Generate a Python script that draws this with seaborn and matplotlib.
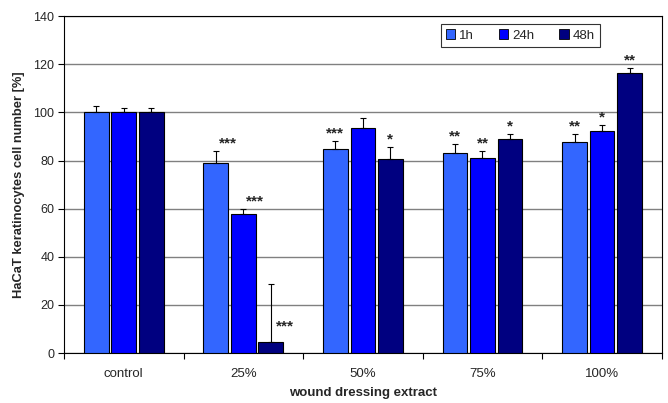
import numpy as np
import pandas as pd
import seaborn as sns
import matplotlib.pyplot as plt

# Cell viability data (% of control)
categories = ["control", "25%", "50%", "75%", "100%"]
times = ["1h", "24h", "48h"]
values_1h = [100.0, 79.0, 84.6, 83.0, 87.5]
values_24h = [100.0, 57.8, 93.7, 81.2, 92.2]
values_48h = [100.0, 4.5, 80.6, 88.8, 116.2]
err_1h = [2.5, 5.0, 3.5, 3.9, 3.5]
err_24h = [2.0, 2.2, 3.8, 2.7, 2.5]
err_48h = [1.7, 24.0, 5.1, 2.3, 2.3]
stars_1h = ["", "***", "***", "**", "**"]
stars_24h = ["", "***", "", "**", "*"]
stars_48h = ["", "***", "*", "*", "**"]
colors = ["#3366FF", "#0000FF", "#000080"]

rows = []
for t, vals, errs, st in zip(times,
                             [values_1h, values_24h, values_48h],
                             [err_1h, err_24h, err_48h],
                             [stars_1h, stars_24h, stars_48h]):
    for c, v, e, s in zip(categories, vals, errs, st):
        rows.append({"extract": c, "time": t, "value": v, "err": e, "stars": s})
df = pd.DataFrame(rows)

sns.set_style("white")
plt.rcParams["font.family"] = ["Liberation Sans", "DejaVu Sans"]

fig = plt.figure(figsize=(6.68, 4.03), dpi=100)
ax = fig.add_axes([0.0958, 0.124, 0.895, 0.836])

sns.barplot(data=df, x="extract", y="value", hue="time", order=categories,
            hue_order=times, palette=colors, saturation=1, errorbar=None,
            width=0.69, gap=0.1, edgecolor="black", linewidth=0.8, ax=ax,
            zorder=3)

# error bars (upper only) and significance stars
for t, container in zip(times, ax.containers):
    sub = df[df["time"] == t].set_index("extract").loc[categories]
    for (cat, r), bar in zip(sub.iterrows(), container):
        xc = bar.get_x() + bar.get_width() / 2
        top = r["value"] + r["err"]
        ax.errorbar(xc, r["value"], yerr=[[0], [r["err"]]], fmt="none",
                    ecolor="black", elinewidth=0.8, capsize=2.5,
                    capthick=0.8, zorder=4)
        if not r["stars"]:
            continue
        if cat == "25%" and t == "48h":
            ax.text(xc + 0.12, 8, r["stars"], ha="center", va="bottom",
                    fontsize=11, fontweight="bold")
        elif cat == "25%":
            ax.text(xc + 0.1, top + 0.2, r["stars"], ha="center",
                    va="bottom", fontsize=11, fontweight="bold")
        else:
            ax.text(xc, top + 0.2, r["stars"], ha="center", va="bottom",
                    fontsize=11, fontweight="bold")

ax.set_ylim(0, 140)
ax.set_xlim(-0.5, len(categories) - 0.5)
ax.set_yticks(np.arange(0, 141, 20))
ax.yaxis.grid(True, color="#808080", linewidth=1.0, zorder=0)
ax.set_axisbelow(True)

ax.set_xticks(range(len(categories)))
ax.set_xticklabels(categories)
ax.set_xticks(np.arange(-0.5, len(categories)), minor=True)
ax.tick_params(axis="x", which="major", length=0, pad=11, labelsize=9.5)
ax.tick_params(axis="x", which="minor", length=4, width=0.8, direction="out",
               color="black", bottom=True)
ax.tick_params(axis="y", length=4, width=0.8, direction="out", color="black",
               left=True, labelsize=9, pad=3)

for sp in ax.spines.values():
    sp.set_color("black")
    sp.set_linewidth(0.8)
    sp.set_visible(True)

ax.set_xlabel("wound dressing extract", fontsize=9.5, fontweight="bold",
              labelpad=5)
ax.set_ylabel("HaCaT keratinocytes cell number [%]", fontsize=9.3,
              fontweight="bold", labelpad=6)

leg = ax.legend(loc="upper left", bbox_to_anchor=(0.63, 0.976), ncol=3,
                frameon=True, fancybox=False, fontsize=9.5, handlelength=0.7,
                handleheight=0.7, handletextpad=0.3, columnspacing=1.9,
                borderpad=0.4, borderaxespad=0)
leg.get_frame().set_edgecolor("black")
leg.get_frame().set_linewidth(0.8)
for h in leg.legend_handles:
    h.set_edgecolor("black")
    h.set_linewidth(0.6)

fig.savefig("out.png", dpi=100)
